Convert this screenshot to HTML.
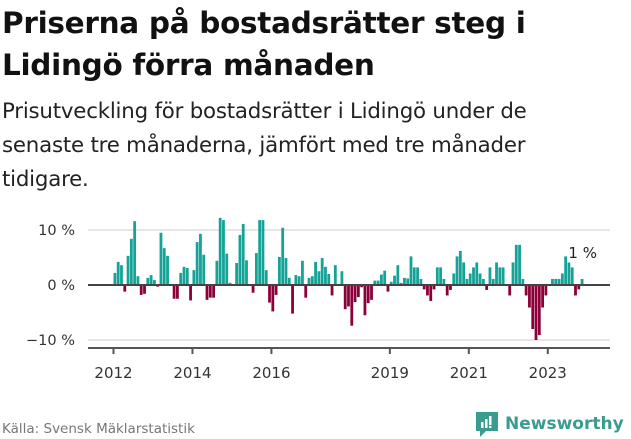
<!DOCTYPE html>
<html><head><meta charset="utf-8"><style>
body{margin:0;width:631px;height:439px;background:#fff;font-family:"DejaVu Sans","Liberation Sans",sans-serif;overflow:hidden;position:relative;color:#111}
h1{position:absolute;left:2px;top:2px;margin:0;font-size:29.5px;line-height:42px;font-weight:bold;letter-spacing:-0.3px}
.sub{position:absolute;left:2px;top:95px;margin:0;font-size:21.3px;line-height:34px;color:#222;letter-spacing:-0.2px}
.src{position:absolute;left:2px;top:421px;font-size:13.5px;color:#777}
.logo{position:absolute;left:474px;top:410px;display:flex;align-items:center;color:#3a9c8e;font-size:17px;font-weight:bold}
</style></head><body>
<h1>Priserna på bostadsrätter steg i<br>Lidingö förra månaden</h1>
<p class="sub">Prisutveckling för bostadsrätter i Lidingö under de<br>senaste tre månaderna, jämfört med tre månader<br>tidigare.</p>
<svg id="chart" width="631" height="439" style="position:absolute;left:0;top:0"></svg>
<div class="src">Källa: Svensk Mäklarstatistik</div>
<div class="logo">
<svg width="26" height="28" viewBox="0 0 26 28"><path d="M2 2h22v19H12l-6 6v-6H2z" fill="#3a9c8e"/><rect x="7" y="12" width="2.5" height="6" fill="#fff"/><rect x="11" y="9" width="2.5" height="9" fill="#fff"/><rect x="15" y="6" width="2.5" height="9" fill="#fff"/><rect x="15" y="16" width="2.5" height="2" fill="#fff"/></svg>
<span style="margin-left:5px">Newsworthy</span></div>
<script>
const values=[2.2,4.2,3.6,-1.2,5.3,8.4,11.6,1.6,-1.8,-1.6,1.3,1.8,
0.9,-0.3,9.5,6.7,5.3,0,-2.5,-2.5,2.2,3.3,3.1,-2.8,
2.7,7.8,9.3,5.5,-2.7,-2.3,-2.3,4.4,12.2,11.8,5.7,0.4,
0,4,9.1,11.1,4.5,0,-1.4,5.8,11.8,11.8,2.7,-3.2,
-4.8,-1.8,5.1,10.4,4.9,1.3,-5.2,1.8,1.6,4.4,-2.3,1.3,
1.6,4.2,2.5,4.9,3.3,2,-1.9,3.6,0,2.5,-4.4,-3.9,
-7.4,-3.1,-2.2,-0.4,-5.5,-3.3,-2.7,0.8,0.8,1.9,2.6,-1.2,
0.6,1.7,3.6,0.4,1.3,1.2,5.2,3.2,3.2,1.1,-0.8,-1.9,
-2.9,-0.8,3.2,3.2,1.1,-1.9,-0.9,2.1,5.2,6.2,4.1,1.1,
2.1,3.2,4.1,2.1,1.1,-0.9,3.2,1.1,4.1,3.2,3.2,0,
-1.9,4.1,7.3,7.3,1.1,-1.9,-4.1,-8,-10,-9.1,-4.1,-1.9,
0,1.1,1.1,1.1,2.1,5.2,4.1,3.2,-1.9,-0.8,1.1];
const startYear=2012;
const yTicks=[10,0,-10];
const yTickLabels=["10 %","0 %","−10 %"];
const xTickYears=[2012,2014,2016,2019,2021,2023];
const lastLabel="1 %";
const svg=document.getElementById('chart');const NS='http://www.w3.org/2000/svg';
const y=v=>285-v*5.5;
const x=m=>113.5+m*3.29;
function mk(t,a){const e=document.createElementNS(NS,t);for(const k in a)e.setAttribute(k,a[k]);svg.appendChild(e);return e;}
yTicks.forEach((t,i)=>{
 if(t!==0){const g=mk('line',{x1:88,x2:610,y1:y(t),y2:y(t),stroke:'#ddd','stroke-width':1.5});
 
 }
 const l=mk('text',{x:75,y:y(t)+5,'text-anchor':'end','font-size':14.5,fill:'#333','font-family':'DejaVu Sans, sans-serif'});l.textContent=yTickLabels[i];
 
 
});
values.forEach((v,i)=>{
 const r=mk('rect',{x:x(i),width:2.8,y:Math.min(y(v),y(0)),height:Math.abs(y(v)-y(0)),fill:v>=0?'#14a396':'#8c0039'});
 
 
});
const z=mk('line',{x1:88,x2:610,y1:y(0),y2:y(0),stroke:'#444','stroke-width':2});


const ax=mk('line',{x1:88,x2:610,y1:348,y2:348,stroke:'#555','stroke-width':2});


xTickYears.forEach(yr=>{
 const xx=x((yr-startYear)*12);
 const t=mk('line',{x1:xx,x2:xx,y1:348,y2:354,stroke:'#555','stroke-width':2});
 
 
 const l=mk('text',{x:xx,y:378,'text-anchor':'middle','font-size':15,fill:'#333','font-family':'DejaVu Sans, sans-serif'});l.textContent=yr;
 
 
});
const last=values.length-1;
const lb=mk('text',{x:x(last)+2,y:y(values[last])-21,'text-anchor':'middle','font-size':15,fill:'#222','font-family':'DejaVu Sans, sans-serif'});lb.textContent=lastLabel;


</script>
</body></html>
